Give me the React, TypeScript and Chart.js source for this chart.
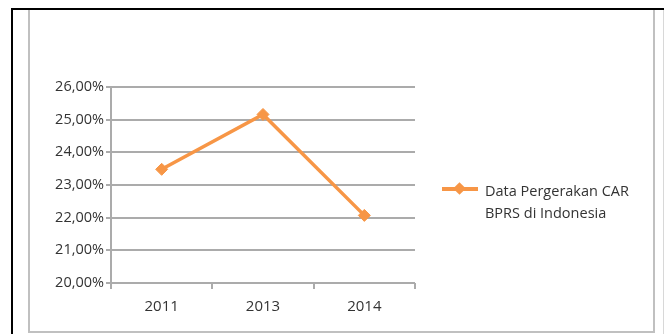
import React, { useEffect, useRef } from "react";
import { Chart, registerables } from "chart.js";

Chart.register(...registerables);

const categories = ["2011", "2013", "2014"];
const carValues = [23.48, 25.16, 22.07];
const seriesLabel = ["Data Pergerakan CAR", "BPRS di Indonesia"];
const yMin = 20;
const yMax = 26;
const yStep = 1;

const ORANGE = "#F79646";
const GRID = "#ababab";
const TEXT = "#333333";
const FONT = "'Open Sans', 'Noto Sans', sans-serif";

export default function App() {
  const canvasRef = useRef<HTMLCanvasElement | null>(null);

  useEffect(() => {
    const canvas = canvasRef.current;
    if (!canvas) return;
    const chart = new Chart(canvas, {
      type: "line",
      data: {
        labels: categories,
        datasets: [
          {
            label: seriesLabel.join(" "),
            data: carValues,
            borderColor: ORANGE,
            backgroundColor: ORANGE,
            borderWidth: 3.5,
            pointStyle: "rectRot",
            pointRadius: 6,
            pointBorderWidth: 1,
            pointBackgroundColor: ORANGE,
            pointBorderColor: ORANGE,
            tension: 0,
          },
        ],
      },
      options: {
        responsive: false,
        animation: false,
        devicePixelRatio: 1,
        layout: { padding: { left: 0, top: 87, right: 249, bottom: 11 } },
        plugins: {
          legend: { display: false },
          tooltip: { enabled: false },
          title: { display: false },
        },
        scales: {
          x: {
            type: "category",
            offset: true,
            afterFit: (s: any) => {
              s.height = 40;
            },
            grid: {
              display: true,
              offset: true,
              drawOnChartArea: false,
              drawTicks: true,
              tickLength: 6,
              color: GRID,
              lineWidth: 2,
            },
            border: { display: false },
            ticks: {
              color: TEXT,
              font: { family: FONT, size: 15 },
              padding: 9,
              maxRotation: 0,
            },
          },
          y: {
            min: yMin,
            max: yMax,
            afterFit: (s: any) => {
              s.width = 111;
            },
            grid: {
              color: GRID,
              lineWidth: 2,
              drawTicks: true,
              tickLength: 5,
            },
            border: { display: true, color: GRID, width: 2 },
            ticks: {
              stepSize: yStep,
              color: TEXT,
              font: { family: FONT, size: 14.5 },
              padding: 2,
              callback: (v: any) => Number(v).toFixed(2).replace(".", ",") + "%",
            },
          },
        },
      },
    });
    return () => chart.destroy();
  }, []);

  const abs = (s: React.CSSProperties): React.CSSProperties => ({ position: "absolute", ...s });

  return (
    <div style={{ position: "fixed", left: 0, top: 0, width: 664, height: 334, background: "#fff", overflow: "hidden" }}>
      <canvas ref={canvasRef} width={664} height={334} style={abs({ left: 0, top: 0, width: 664, height: 334 })} />
      {/* black outer border */}
      <div style={abs({ left: 11, top: 8, width: 653, height: 2, background: "#000" })} />
      <div style={abs({ left: 11, top: 8, width: 2, height: 326, background: "#000" })} />
      {/* gray inner frame */}
      <div style={abs({ left: 28, top: 10, width: 2, height: 323, background: "#c0c0c0" })} />
      <div style={abs({ left: 653, top: 10, width: 2, height: 323, background: "#c0c0c0" })} />
      <div style={abs({ left: 28, top: 331, width: 627, height: 2, background: "#c0c0c0" })} />
      <div style={abs({ left: 663, top: 10, width: 1, height: 324, background: "#d8d8d8" })} />
      {/* legend */}
      <div style={abs({ left: 442, top: 187, width: 36, height: 3.5, background: ORANGE })} />
      <div style={abs({ left: 455, top: 184, width: 9, height: 9, background: ORANGE, transform: "rotate(45deg)" })} />
      <div style={abs({ left: 485, top: 180, fontFamily: FONT, fontSize: 14.5, lineHeight: "22px", color: TEXT, whiteSpace: "nowrap" })}>
        {seriesLabel[0]}
        <br />
        {seriesLabel[1]}
      </div>
    </div>
  );
}
